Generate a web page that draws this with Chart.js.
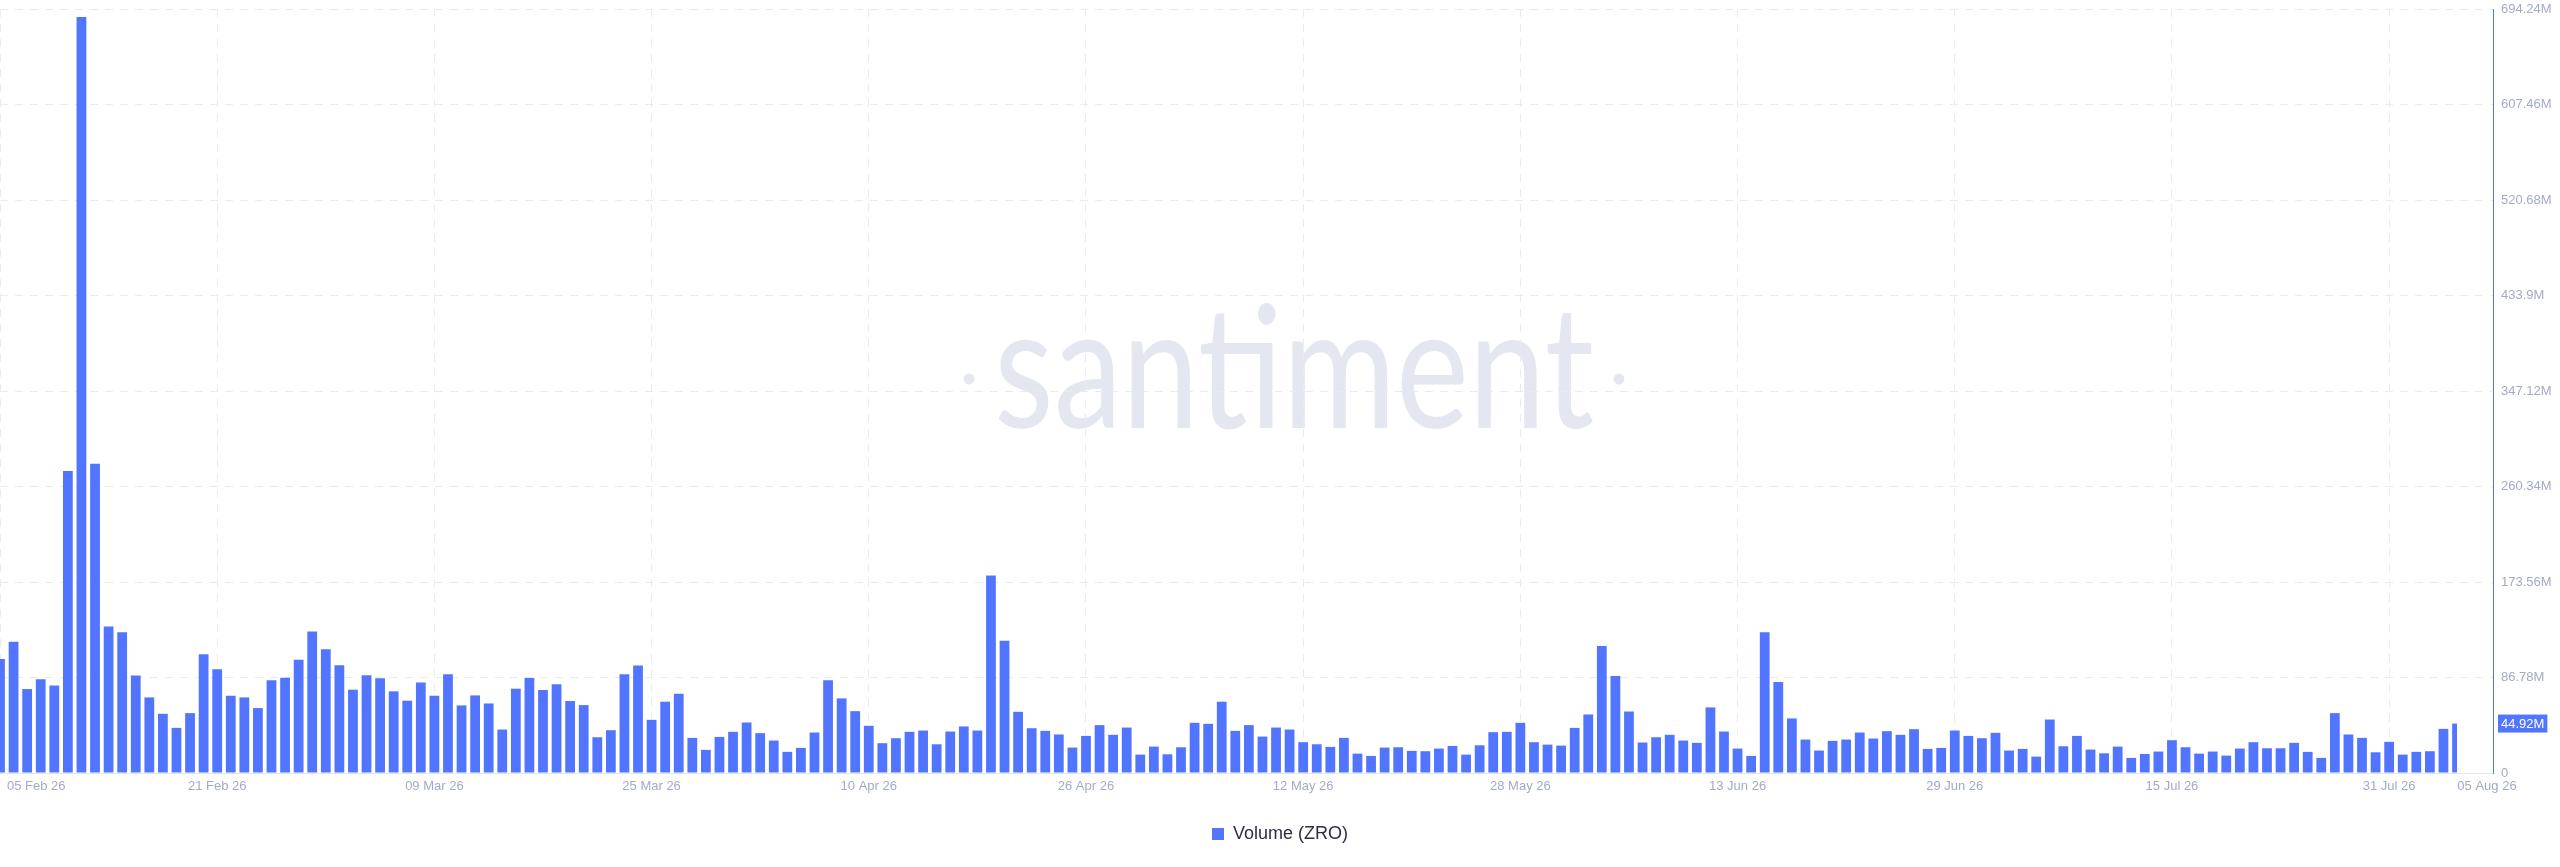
<!DOCTYPE html>
<html>
<head>
<meta charset="utf-8">
<title>Volume (ZRO)</title>
<script src="https://cdn.jsdelivr.net/npm/chart.js@4.4.1/dist/chart.umd.min.js"></script>
<style>
  html, body { margin: 0; padding: 0; background: #fff; }
</style>
</head>
<body>
<canvas id="chart" width="2560" height="867"></canvas>
<script>
// daily volume in millions of ZRO, 05 Feb 26 .. 05 Aug 26 (one bar per day)
const volume = [
  103.7, 119.2, 76.3, 85.1, 79.6, 274.4, 687.0, 281.0, 133.2, 128.0,
  88.5, 68.7, 53.8, 41.0, 54.4, 107.9, 94.2, 70.2, 68.7, 59.0,
  84.2, 86.6, 102.8, 128.6, 112.5, 97.9, 75.7, 88.8, 86.0, 74.2,
  65.7, 82.2, 70.2, 89.7, 61.4, 70.5, 63.2, 39.5, 76.6, 86.3,
  75.4, 80.6, 65.4, 61.7, 32.5, 38.9, 89.7, 97.6, 48.3, 64.8,
  72.0, 31.9, 21.0, 32.8, 37.4, 45.9, 36.2, 29.5, 19.2, 22.8,
  36.8, 84.2, 67.8, 56.2, 42.9, 27.1, 31.6, 37.4, 38.6, 26.1,
  37.7, 42.3, 38.6, 179.4, 120.1, 55.6, 40.7, 38.3, 35.0, 23.1,
  33.7, 43.5, 34.7, 41.3, 16.7, 24.0, 17.0, 23.4, 45.6, 44.7,
  64.8, 38.3, 43.5, 33.1, 41.3, 39.5, 28.0, 26.1, 23.7, 31.9,
  17.6, 15.5, 23.1, 23.4, 20.1, 19.8, 22.2, 24.6, 16.7, 25.2,
  37.1, 37.4, 45.6, 28.0, 25.8, 24.9, 41.0, 53.2, 115.5, 88.2,
  55.9, 27.7, 32.5, 34.7, 29.5, 27.4, 59.6, 37.7, 22.2, 15.5,
  128.0, 82.7, 49.6, 30.4, 20.4, 29.2, 30.4, 36.8, 31.3, 38.0,
  34.7, 39.8, 21.9, 22.8, 38.6, 33.7, 31.6, 36.5, 20.4, 21.9,
  14.9, 48.6, 24.3, 33.7, 21.3, 17.9, 24.0, 13.7, 17.3, 19.5,
  29.8, 23.4, 17.6, 19.5, 15.8, 22.2, 28.0, 22.5, 22.5, 27.4,
  19.2, 13.7, 54.4, 35.0, 31.9, 18.8, 28.3, 16.7, 19.2, 19.8,
  40.1, 44.92
]

// x tick positions (days since 05 Feb 26) and their labels
const tickDays = [0, 16, 32, 48, 64, 80, 96, 112, 128, 144, 160, 176, 181]
const tickLabels = ['05 Feb 26', '21 Feb 26', '09 Mar 26', '25 Mar 26', '10 Apr 26', '26 Apr 26',
  '12 May 26', '28 May 26', '13 Jun 26', '29 Jun 26', '15 Jul 26', '31 Jul 26', '05 Aug 26']

// right axis ticks, millions
const yTicks = [0, 86.78, 173.56, 260.34, 347.12, 433.9, 520.68, 607.46, 694.24]

const barColor = '#5275ff'
const tickColor = '#a4aac4'
const gridColor = '#e9ebf2'
const tickFont = '"Liberation Sans", Arial, sans-serif'

const fmtM = v => v === 0 ? '0' : v + 'M'

// faint logo behind the plot
const watermark = {
  id: 'watermark',
  beforeDraw (chart) {
    const ctx = chart.ctx
    const cx = chart.width / 2 + 14
    const base = 428
    ctx.save()
    ctx.fillStyle = '#e4e7f0'
    ctx.font = '400 170px Lato, "Open Sans", sans-serif'
    ctx.textAlign = 'center'
    ctx.textBaseline = 'alphabetic'
    const w = ctx.measureText('santiment').width
    ctx.translate(cx, base)
    ctx.scale(600 / w, 1)
    ctx.fillText('santiment', 0, 0)
    ctx.restore()
    ctx.save()
    ctx.fillStyle = '#e4e7f0'
    ;[-325, 325].forEach(dx => {
      ctx.beginPath()
      ctx.arc(cx + dx, 379, 5.5, 0, Math.PI * 2)
      ctx.fill()
    })
    ctx.restore()
  }
}

// bars stop at the centre of the last day, like the first one starts at its centre
const clipToLastDay = {
  id: 'clipToLastDay',
  beforeDatasetsDraw (chart) {
    const { ctx, chartArea, scales } = chart
    const edge = scales.x.getPixelForValue(volume.length - 1)
    ctx.save()
    ctx.beginPath()
    ctx.rect(chartArea.left, chartArea.top - 2, edge - chartArea.left, chartArea.bottom - chartArea.top + 2)
    ctx.clip()
  },
  afterDatasetsDraw (chart) {
    chart.ctx.restore()
  }
}

// date labels (first/last kept inside) and the last value badge
const axisLabels = {
  id: 'axisLabels',
  afterDraw (chart) {
    const { ctx, chartArea, scales } = chart
    ctx.save()
    ctx.font = '13px ' + tickFont
    ctx.fillStyle = tickColor
    ctx.textBaseline = 'middle'
    ctx.textAlign = 'left'
    const y = chartArea.bottom + 13
    tickDays.forEach((d, i) => {
      const text = tickLabels[i]
      const w = ctx.measureText(text).width
      let x = scales.x.getPixelForValue(d) - w / 2
      if (i === 0) x = Math.max(x, chartArea.left + 7)
      if (i === tickDays.length - 1) x = chartArea.right - 6 - w / 2
      ctx.fillText(text, x, y)
    })

    const last = volume[volume.length - 1]
    const by = scales.y.getPixelForValue(last)
    const label = fmtM(last)
    const lw = ctx.measureText(label).width
    ctx.fillStyle = barColor
    ctx.fillRect(chartArea.right + 5, by - 9, lw + 6, 18)
    ctx.fillStyle = '#ffffff'
    ctx.fillText(label, chartArea.right + 8, by + 0.5)
    ctx.restore()
  }
}

new Chart(document.getElementById('chart'), {
  type: 'bar',
  data: {
    datasets: [{
      label: 'Volume (ZRO)',
      data: volume.map((v, i) => ({ x: i, y: v })),
      backgroundColor: barColor,
      borderWidth: 0,
      barPercentage: 0.9,
      categoryPercentage: 0.8
    }]
  },
  options: {
    responsive: false,
    animation: false,
    layout: { padding: { top: 9, bottom: 14, left: 0, right: 0 } },
    scales: {
      x: {
        type: 'linear',
        offset: false,
        min: 0,
        max: volume.length - 1 + 2.65,
        afterBuildTicks: scale => {
          scale.ticks = tickDays.slice(0, -1).map(v => ({ value: v }))
        },
        afterFit: scale => { scale.height = 42 },
        ticks: { display: false },
        grid: { color: gridColor, drawTicks: false, offset: false },
        border: { color: '#e3e6ee', dash: [8, 7] }
      },
      y: {
        position: 'right',
        min: 0,
        max: yTicks[yTicks.length - 1],
        afterBuildTicks: scale => {
          scale.ticks = yTicks.map(v => ({ value: v }))
        },
        afterFit: scale => {
          scale.width = 67
          scale.paddingTop = 0
          scale.paddingBottom = 0
        },
        ticks: {
          padding: 8,
          color: tickColor,
          font: { family: tickFont, size: 13 },
          callback: v => fmtM(v)
        },
        grid: { color: gridColor, drawTicks: false },
        border: { color: barColor, width: 1, dash: [8, 7] }
      }
    },
    plugins: {
      legend: {
        position: 'bottom',
        labels: {
          boxWidth: 12,
          boxHeight: 12,
          padding: 10,
          color: '#2b2f3f',
          font: { family: tickFont, size: 18 }
        }
      },
      tooltip: { enabled: false }
    }
  },
  plugins: [watermark, clipToLastDay, axisLabels]
})
</script>
</body>
</html>
